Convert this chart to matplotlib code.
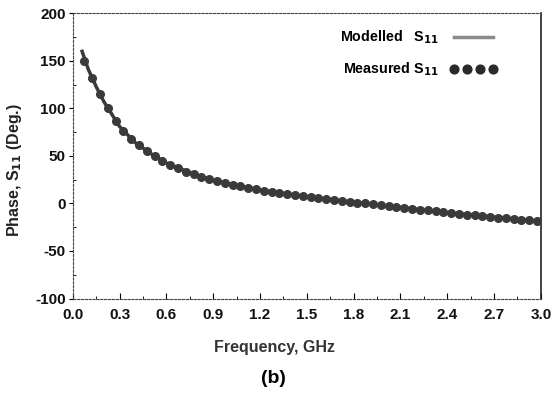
import matplotlib
matplotlib.use("Agg")
import matplotlib.pyplot as plt
from matplotlib.ticker import MultipleLocator
from matplotlib.lines import Line2D

plt.rcParams['font.family'] = ['Liberation Sans', 'DejaVu Sans']
plt.rcParams['axes.unicode_minus'] = False
plt.rcParams['mathtext.default'] = 'bf'

# Measured S11 phase (deg) vs frequency (GHz)
meas_freq = [0.075, 0.125, 0.175, 0.225, 0.275, 0.325, 0.375, 0.425, 0.475, 0.525,
             0.575, 0.625, 0.675, 0.725, 0.775, 0.825, 0.875, 0.925, 0.975, 1.025,
             1.075, 1.125, 1.175, 1.225, 1.275, 1.325, 1.375, 1.425, 1.475, 1.525,
             1.575, 1.625, 1.675, 1.725, 1.775, 1.825, 1.875, 1.925, 1.975, 2.025,
             2.075, 2.125, 2.175, 2.225, 2.275, 2.325, 2.375, 2.425, 2.475, 2.525,
             2.575, 2.625, 2.675, 2.725, 2.775, 2.825, 2.875, 2.925, 2.975]
meas_phase = [150, 132, 115, 100, 87, 76, 67.5, 61, 55.5, 50,
              45, 40.5, 37, 33.5, 30.5, 28, 25.5, 23.3, 21.4, 19.7,
              18, 16.3, 14.7, 13.5, 12.3, 11.1, 10, 8.8, 7.6, 6.6,
              5.6, 4.6, 3.6, 2.7, 1.8, 0.9, 0, -1, -2, -2.9,
              -3.8, -4.7, -5.6, -6.5, -7.4, -8.3, -9.2, -10, -10.9, -11.7,
              -12.5, -13.3, -14.1, -14.9, -15.7, -16.4, -17.1, -17.9, -18.6]

# Modelled S11 phase
model_freq = [0.06, 0.1, 0.15, 0.2, 0.3, 0.4, 0.5, 0.6, 0.8, 1.0, 1.2, 1.5, 1.8, 2.1, 2.4, 2.7, 3.0]
model_phase = [160, 141, 123, 107, 81, 64, 52.5, 42.5, 29.2, 20.5, 14.1, 7.1, 1.3, -4.2, -9.6, -14.5, -19]

x_ticks = [0.0, 0.3, 0.6, 0.9, 1.2, 1.5, 1.8, 2.1, 2.4, 2.7, 3.0]
y_ticks = [-100, -50, 0, 50, 100, 150, 200]

fig = plt.figure(figsize=(5.53, 3.98), dpi=100)
ax = fig.add_axes([0.1315, 0.25, 0.8465, 0.7165])

ax.plot(model_freq, model_phase, color='#3a3a3a', lw=2.5, zorder=2)
ax.plot(meas_freq, meas_phase, ls='none', marker='o', ms=5.5, color='#3a3a3a', zorder=3)

ax.set_xlim(0, 3.0)
ax.set_ylim(-100, 200)
ax.set_xticks(x_ticks)
ax.set_xticklabels([f'{v:.1f}' for v in x_ticks])
ax.set_yticks(y_ticks)
ax.xaxis.set_minor_locator(MultipleLocator(0.15))
ax.yaxis.set_minor_locator(MultipleLocator(25))

for lab in ax.get_xticklabels() + ax.get_yticklabels():
    lab.set_fontweight('bold')
    lab.set_fontsize(11)
    lab.set_color('#111111')
ax.tick_params(axis='x', direction='in', length=4, width=0.8, pad=7)
ax.tick_params(axis='x', which='minor', direction='in', length=2)
ax.tick_params(axis='y', direction='out', length=3, width=0.8, pad=2)
ax.tick_params(axis='y', which='minor', direction='in', length=2)

for side in ['top', 'left', 'bottom']:
    ax.spines[side].set_linestyle((0, (2, 1.5)))
    ax.spines[side].set_linewidth(0.8)
    ax.spines[side].set_color('#444444')
ax.spines['right'].set_linewidth(1.2)
ax.spines['right'].set_color('#222222')

ax.set_xlabel('Frequency, GHz', fontsize=11.5, fontweight='bold', color='#333333')
ax.xaxis.set_label_coords(0.432, -0.1455)
ax.xaxis.label.set_va('top')
ax.set_ylabel('Phase, S$_{11}$ (Deg.)', fontsize=11.5, fontweight='bold', color='#222222')
ax.yaxis.set_label_coords(-0.104, 0.45)

handles = [Line2D([], [], color='#8a8a8a', lw=2.5),
           Line2D([], [], ls='none', marker='o', ms=6.3, color='#2a2a2a')]
labels = ['Modelled   S$_{11}$', 'Measured S$_{11}$']
leg = ax.legend(handles, labels, loc='upper right', bbox_to_anchor=(0.907, 0.945),
                frameon=False, markerfirst=False, numpoints=4, handlelength=3.3,
                handletextpad=0.8, borderaxespad=0, borderpad=0,
                prop={'weight': 'bold', 'size': 10.3}, labelspacing=1.0)

fig.text(0.494, 0.05, '(b)', ha='center', va='center', fontsize=14, fontweight='bold')

fig.savefig('out.png', dpi=100)
